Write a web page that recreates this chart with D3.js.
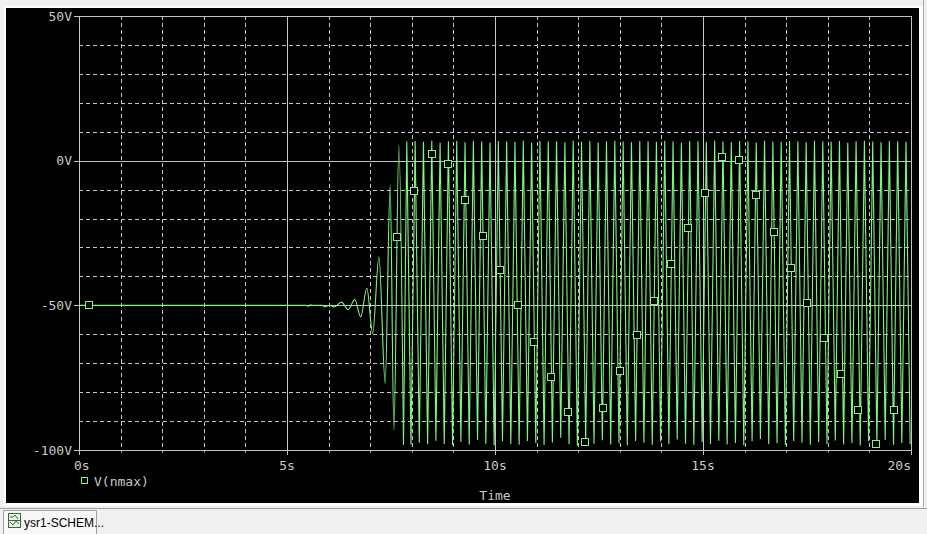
<!DOCTYPE html>
<html><head><meta charset="utf-8">
<script src="https://cdn.jsdelivr.net/npm/d3@7"></script>
<style>html,body{margin:0;padding:0;background:#f0f0f0;overflow:hidden}svg{display:block}</style>
</head><body><svg id="c" width="927" height="534"></svg>
<script>
// ---- data ----
const xTicks = [0, 5, 10, 15, 20];
const xTickLabels = ["0s", "5s", "10s", "15s", "20s"];
const yTicks = [50, 0, -50, -100];
const yTickLabels = ["50V", "0V", "-50V", "-100V"];
const seriesName = "V(nmax)";
const xTitle = "Time";
const tabLabel = "ysr1-SCHEM...";

// start-up (flat + growing oscillation)
const growthT = [0, 5.45, 5.52, 5.56, 5.6, 5.85, 5.9, 5.97, 6.05, 6.13, 6.31, 6.47, 6.63, 6.77, 6.92, 7.06, 7.21, 7.36, 7.48, 7.57, 7.69, 7.80];
const growthV = [-50, -50, -50.3, -49.8, -50, -50, -50.5, -50.2, -50, -50.6, -48.9, -51.5, -48.0, -54.0, -44.1, -59.7, -33.2, -77.0, -8.4, -93.1, 5.4, -98.3];

// saturated oscillation: peaks
const peakT = [7.88, 8.08, 8.28, 8.48, 8.68, 8.88, 9.08, 9.28, 9.48, 9.68,
  9.88, 10.08, 10.28, 10.48, 10.68, 10.88, 11.08, 11.28, 11.48, 11.68,
  11.88, 12.08, 12.28, 12.48, 12.68, 12.88, 13.08, 13.28, 13.48, 13.68,
  13.88, 14.08, 14.28, 14.48, 14.68, 14.88, 15.08, 15.28, 15.48, 15.68,
  15.88, 16.08, 16.28, 16.48, 16.68, 16.88, 17.08, 17.28, 17.48, 17.68,
  17.88, 18.08, 18.28, 18.48, 18.68, 18.88, 19.08, 19.28, 19.48, 19.68,
  19.88];
const peakV = [6.6, 6.8, 6.5, 6.9, 6.2, 6.7, 6.8, 6.4, 6.9, 6.6,
  6.3, 6.8, 6.7, 6.5, 6.9, 6.2, 6.8, 6.6, 6.7, 6.4,
  6.9, 6.5, 6.8, 6.3, 6.7, 6.9, 6.6, 6.4, 6.8, 6.7,
  6.5, 6.9, 6.6, 6.2, 6.8, 6.7, 6.5, 6.9, 6.6, 6.4,
  6.8, 6.7, 6.3, 6.9, 6.6, 6.5, 6.8, 6.7, 6.4, 6.9,
  6.6, 6.5, 6.8, 6.2, 6.7, 6.9, 6.6, 6.4, 6.8, 6.7,
  6.5];
// saturated oscillation: troughs
const troughT = [7.98, 8.18, 8.38, 8.58, 8.78, 8.98, 9.18, 9.38, 9.58, 9.78,
  9.98, 10.18, 10.38, 10.58, 10.78, 10.98, 11.18, 11.38, 11.58, 11.78,
  11.98, 12.18, 12.38, 12.58, 12.78, 12.98, 13.18, 13.38, 13.58, 13.78,
  13.98, 14.18, 14.38, 14.58, 14.78, 14.98, 15.18, 15.38, 15.58, 15.78,
  15.98, 16.18, 16.38, 16.58, 16.78, 16.98, 17.18, 17.38, 17.58, 17.78,
  17.98, 18.18, 18.38, 18.58, 18.78, 18.98, 19.18, 19.38, 19.58, 19.78,
  19.98];
const troughV = [-98.2, -97.5, -98.0, -96.8, -97.9, -98.3, -97.2, -98.1, -96.5, -97.8,
  -98.4, -97.0, -97.9, -98.2, -96.9, -97.6, -98.3, -97.4, -95.8, -98.0,
  -98.5, -97.3, -97.8, -96.6, -98.1, -97.7, -98.4, -96.9, -97.5, -98.2,
  -97.1, -98.0, -96.4, -97.8, -98.3, -97.2, -97.9, -96.8, -98.1, -97.6,
  -98.4, -97.0, -96.2, -98.0, -97.7, -98.3, -96.9, -97.5, -98.2, -97.3,
  -97.9, -96.7, -98.1, -97.6, -98.4, -97.0, -97.8, -96.5, -98.2, -97.6,
  -98.0];

// trace markers
const markerT = [0.24, 7.64, 8.05, 8.49, 8.87, 9.28, 9.71, 10.13, 10.55, 10.94, 11.35, 11.75, 12.16, 12.60, 13.00, 13.41, 13.82, 14.23, 14.64, 15.05, 15.46, 15.87, 16.27, 16.71, 17.12, 17.50, 17.91, 18.32, 18.73, 19.16, 19.59];
const markerV = [-50, -26.4, -10.5, 2.3, -1.2, -13.6, -26.0, -37.8, -49.9, -62.7, -74.8, -86.9, -97.2, -85.5, -72.7, -60.3, -48.5, -35.7, -23.3, -11.2, 1.3, 0.2, -11.9, -24.7, -37.1, -49.2, -61.3, -73.7, -86.2, -97.9, -86.2];

// ---- drawing ----
const svg = d3.select("#c");
const L = 79, R = 911, T = 16, B = 450;
const x = d3.scaleLinear().domain([0, 20]).range([L, R]);
const y = d3.scaleLinear().domain([-100, 50]).range([B, T]);
const gridCol = "#c4c4c4", txtCol = "#c8c8c8", green = "#80f680";
const mono = "'DejaVu Sans Mono', 'Liberation Mono', monospace";

// window frame
svg.append("rect").attr("x", 4).attr("y", 6).attr("width", 919).attr("height", 500).attr("fill", "#ffffff");
svg.append("line").attr("x1", 923.5).attr("x2", 923.5).attr("y1", 0).attr("y2", 507).attr("stroke", "#a8a8a8");
svg.append("rect").attr("x", 6).attr("y", 8).attr("width", 913).attr("height", 495).attr("fill", "#000");

// grid: minor dashed
const g = svg.append("g");
g.selectAll("line.vx").data(x.ticks(20).filter(d => xTicks.indexOf(d) < 0)).join("line")
  .attr("x1", d => Math.round(x(d)) + 0.5).attr("x2", d => Math.round(x(d)) + 0.5)
  .attr("y1", T).attr("y2", B).attr("stroke", gridCol).attr("stroke-dasharray", "4,3");
g.selectAll("line.hy").data(y.ticks(15).filter(d => yTicks.indexOf(d) < 0)).join("line")
  .attr("y1", d => Math.round(y(d)) + 0.5).attr("y2", d => Math.round(y(d)) + 0.5)
  .attr("x1", L).attr("x2", R).attr("stroke", gridCol).attr("stroke-dasharray", "4,3");
// major solid
g.selectAll("line.mx").data(xTicks).join("line")
  .attr("x1", d => Math.round(x(d)) + 0.5).attr("x2", d => Math.round(x(d)) + 0.5)
  .attr("y1", T).attr("y2", B).attr("stroke", gridCol);
g.selectAll("line.my").data(yTicks).join("line")
  .attr("y1", d => Math.round(y(d)) + 0.5).attr("y2", d => Math.round(y(d)) + 0.5)
  .attr("x1", L).attr("x2", R).attr("stroke", gridCol);

// trace: start-up part (smooth), then saturated part (sharp spikes)
const growthPts = growthT.map((t, i) => [t, growthV[i]]);
const satPts = [growthPts[growthPts.length - 1]];
peakT.forEach((t, i) => satPts.push([t, peakV[i]]));
troughT.forEach((t, i) => satPts.push([t, troughV[i]]));
satPts.sort((a, b) => a[0] - b[0]);
svg.append("path").datum(growthPts)
  .attr("d", d3.line().x(d => x(d[0])).y(d => y(d[1])).curve(d3.curveMonotoneX))
  .attr("fill", "none").attr("stroke", green).attr("stroke-width", 1.1);
svg.append("path").datum(satPts)
  .attr("d", d3.line().x(d => x(d[0])).y(d => y(d[1])))
  .attr("fill", "none").attr("stroke", green).attr("stroke-width", 1.1);

// markers
svg.append("g").selectAll("rect").data(markerT.map((t, i) => [t, markerV[i]])).join("rect")
  .attr("x", d => Math.round(x(d[0])) - 3.5).attr("y", d => Math.round(y(d[1])) - 3.5)
  .attr("width", 7).attr("height", 7).attr("fill", "#000").attr("stroke", green);

// ticks
const ax = svg.append("g");
ax.selectAll("line").data(x.ticks(20)).join("line")
  .attr("x1", d => Math.round(x(d)) + 0.5).attr("x2", d => Math.round(x(d)) + 0.5)
  .attr("y1", B).attr("y2", d => xTicks.indexOf(d) >= 0 ? B + 5 : B + 2.5).attr("stroke", gridCol);
const ay = svg.append("g");
ay.selectAll("line").data(yTicks).join("line")
  .attr("y1", d => Math.round(y(d)) + 0.5).attr("y2", d => Math.round(y(d)) + 0.5)
  .attr("x1", L - 5).attr("x2", L).attr("stroke", gridCol);

// labels
svg.append("g").selectAll("text").data(yTicks).join("text")
  .attr("x", 72).attr("y", d => y(d)).attr("dy", "0.36em").attr("text-anchor", "end")
  .attr("fill", txtCol).attr("font-family", mono).attr("font-size", 13)
  .text((d, i) => yTickLabels[i]);
svg.append("g").selectAll("text").data(xTicks).join("text")
  .attr("x", (d, i) => i === 0 ? x(d) - 5 : x(d))
  .attr("y", 470)
  .attr("text-anchor", (d, i) => i === 0 ? "start" : (i === xTicks.length - 1 ? "end" : "middle"))
  .attr("fill", txtCol).attr("font-family", mono).attr("font-size", 13)
  .text((d, i) => xTickLabels[i]);

// legend
svg.append("rect").attr("x", 81.5).attr("y", 477.5).attr("width", 6).attr("height", 6)
  .attr("fill", "none").attr("stroke", green);
svg.append("text").attr("x", 94).attr("y", 481).attr("dy", "0.36em")
  .attr("fill", txtCol).attr("font-family", mono).attr("font-size", 13).text(seriesName);

// axis title
svg.append("text").attr("x", x(10)).attr("y", 495).attr("dy", "0.36em").attr("text-anchor", "middle")
  .attr("fill", txtCol).attr("font-family", mono).attr("font-size", 13).text(xTitle);

// bottom tab strip
svg.append("line").attr("x1", 0).attr("x2", 927).attr("y1", 508.5).attr("y2", 508.5).attr("stroke", "#a0a0a0");
svg.append("path").attr("d", "M3.5,534 L3.5,510.5 L96.5,510.5 L96.5,534")
  .attr("fill", "#f7f7f7").attr("stroke", "#a0a0a0");
// tab icon
const ic = svg.append("g").attr("transform", "translate(8,513)");
ic.append("rect").attr("x", 0.5).attr("y", 0.5).attr("width", 12).attr("height", 14).attr("fill", "#e8f4e8").attr("stroke", "#3a6a3a");
ic.append("path").attr("d", "M2,4 L5,4 L7,2 L10,6 M2,9 L5,12 L8,8 L11,11").attr("fill", "none").attr("stroke", "#2a7a2a");
ic.append("line").attr("x1", 1).attr("x2", 12).attr("y1", 7.5).attr("y2", 7.5).attr("stroke", "#555");
svg.append("text").attr("x", 24).attr("y", 527).attr("fill", "#000")
  .attr("font-family", "'Liberation Sans', Arial, sans-serif").attr("font-size", 12).text(tabLabel);
</script>
</body></html>
